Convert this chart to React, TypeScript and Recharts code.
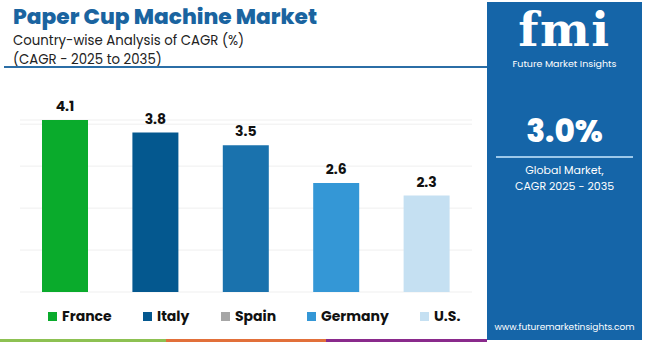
import React from "react";
import { BarChart, Bar, Cell, CartesianGrid, XAxis, YAxis, LabelList } from "recharts";

const countries = ["France", "Italy", "Spain", "Germany", "U.S."];
const cagr = [4.1, 3.8, 3.5, 2.6, 2.3];
const barColors = ["#0aab2c", "#04588f", "#1a72ad", "#3497d6", "#c5e0f2"];
const legendColors = ["#0aab2c", "#04588f", "#a6a6a6", "#3497d6", "#c5e0f2"];
const yTicks = [0, 1, 2, 3, 4];
const globalCagr = "3.0%";

const data = countries.map((name, i) => ({ name, value: cagr[i] }));

const font = "Poppins, Inter, 'Noto Sans', sans-serif";
const legendX = [48, 143, 221, 307, 420];

export default function App() {
  return (
    <div
      style={{
        position: "fixed",
        left: 0,
        top: 0,
        width: 650,
        height: 342,
        background: "#fff",
        overflow: "hidden",
        fontFamily: font,
      }}
    >
      <div style={{ position: "absolute", left: 13, top: 4, fontSize: 21.7, lineHeight: "26px", fontWeight: 800, color: "#1a64a0", whiteSpace: "nowrap" }}>
        Paper Cup Machine Market
      </div>
      <div style={{ position: "absolute", left: 13, top: 31, fontSize: 13.3, color: "#222", lineHeight: "19px", whiteSpace: "nowrap" }}>
        Country-wise Analysis of CAGR (%)
        <br />
        (CAGR - 2025 to 2035)
      </div>
      <div style={{ position: "absolute", left: 4, top: 66, width: 483, height: 2, background: "#2b6ea6" }} />

      <div style={{ position: "absolute", left: 0, top: 0 }}>
        <BarChart width={480} height={300} data={data} margin={{ top: 120, right: 8, bottom: 8, left: 20 }}>
          <CartesianGrid horizontal vertical={false} stroke="#efefef" />
          <XAxis dataKey="name" hide />
          <YAxis hide domain={[0, 4.1]} ticks={yTicks} />
          <Bar dataKey="value" barSize={46} isAnimationActive={false}>
            {data.map((d, i) => (
              <Cell key={d.name} fill={barColors[i]} />
            ))}
            <LabelList dataKey="value" position="top" offset={9} fill="#111" fontSize={14} fontWeight={700} fontFamily={font} />
          </Bar>
        </BarChart>
      </div>

      {countries.map((c, i) => (
        <div key={c} style={{ position: "absolute", left: legendX[i], top: 306, display: "flex", alignItems: "center", whiteSpace: "nowrap" }}>
          <div style={{ width: 9, height: 9, background: legendColors[i], marginRight: 5 }} />
          <span style={{ fontSize: 14, fontWeight: 700, color: "#111" }}>{c}</span>
        </div>
      ))}

      <div style={{ position: "absolute", left: 0, top: 339, width: 166, height: 3, background: "#8dc152" }} />
      <div style={{ position: "absolute", left: 166, top: 339, width: 160, height: 3, background: "#e2703a" }} />
      <div style={{ position: "absolute", left: 326, top: 339, width: 161, height: 3, background: "#8a2a8c" }} />

      <div style={{ position: "absolute", left: 487, top: 2, width: 155, height: 338, background: "#1565a8", color: "#fff", textAlign: "center" }}>
        <div style={{ position: "absolute", left: 0, top: 3, width: 155, fontSize: 47, fontWeight: 800, lineHeight: "50px", fontFamily: "'DejaVu Serif', serif", letterSpacing: 1.5 }}>
          fmi
        </div>
        <div style={{ position: "absolute", left: 0, top: 56, width: 155, fontSize: 9.5, lineHeight: "12px", whiteSpace: "nowrap" }}>Future Market Insights</div>
        <div style={{ position: "absolute", left: 0, top: 110, width: 155, fontSize: 31, lineHeight: "38px", fontWeight: 800 }}>{globalCagr}</div>
        <div style={{ position: "absolute", left: 9, top: 154, width: 137, height: 2, background: "#9cc8ea" }} />
        <div style={{ position: "absolute", left: 0, top: 161, width: 155, fontSize: 11, lineHeight: "14px", whiteSpace: "nowrap" }}>
          Global Market,
        </div>
        <div style={{ position: "absolute", left: 0, top: 177, width: 155, fontSize: 11, lineHeight: "14px", whiteSpace: "nowrap" }}>
          CAGR 2025 - 2035
        </div>
        <div style={{ position: "absolute", left: 0, top: 319, width: 155, fontSize: 9, lineHeight: "12px", whiteSpace: "nowrap" }}>
          www.futuremarketinsights.com
        </div>
      </div>
    </div>
  );
}
